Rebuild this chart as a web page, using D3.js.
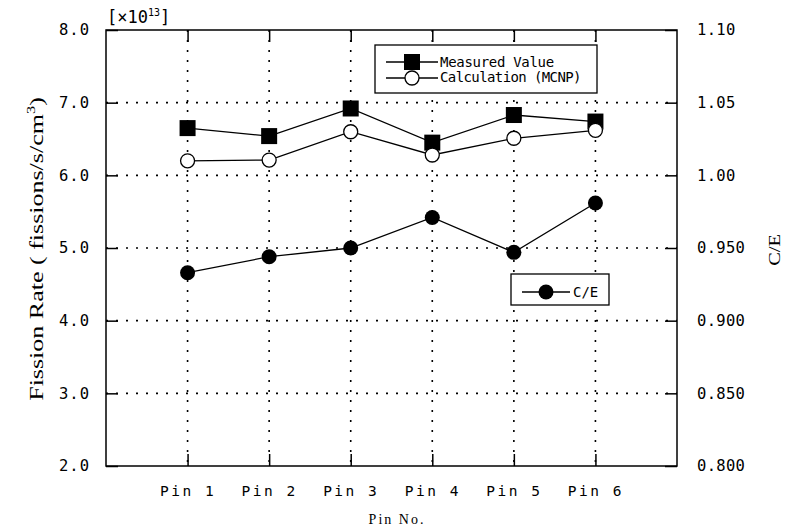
<!DOCTYPE html>
<html><head><meta charset="utf-8">
<script src="https://cdn.jsdelivr.net/npm/d3@7"></script>
<style>body{margin:0;background:#fff}</style>
</head><body>
<svg id="c" width="792" height="532"></svg>
<script>
const categories = ["Pin 1","Pin 2","Pin 3","Pin 4","Pin 5","Pin 6"];
const measured = [6.65, 6.54, 6.92, 6.45, 6.83, 6.74];
const calculated = [6.20, 6.21, 6.60, 6.28, 6.51, 6.62];
const ce = [0.933, 0.944, 0.950, 0.971, 0.947, 0.981];
const leftTicks = [2.0,3.0,4.0,5.0,6.0,7.0,8.0];
const leftTickLabels = ["2.0","3.0","4.0","5.0","6.0","7.0","8.0"];
const rightTicks = [0.80,0.85,0.90,0.95,1.00,1.05,1.10];
const rightTickLabels = ["0.800","0.850","0.900","0.950","1.00","1.05","1.10"];

const svg = d3.select("#c");
const L=106, R=677, T=30, B=466;
const x = d3.scaleLinear().domain([0,7]).range([L,R]);
const y = d3.scaleLinear().domain([2,8]).range([B,T]);
const y2 = d3.scaleLinear().domain([0.8,1.1]).range([B,T]);
const mono = "'DejaVu Sans Mono','Liberation Mono',monospace";
const serif = "'Liberation Serif','DejaVu Serif',serif";

// gridlines
const g = svg.append("g");
g.selectAll("line.h").data(leftTicks.slice(1,-1)).join("line")
  .attr("x1",L).attr("x2",R).attr("y1",d=>y(d)).attr("y2",d=>y(d))
  .attr("stroke","#000").attr("stroke-width",1.6).attr("stroke-dasharray","2,8");
g.selectAll("line.v").data(categories).join("line")
  .attr("x1",(d,i)=>x(i+1)).attr("x2",(d,i)=>x(i+1)).attr("y1",T).attr("y2",B)
  .attr("stroke","#000").attr("stroke-width",1.6).attr("stroke-dasharray","2,8");

// frame
svg.append("rect").attr("x",L).attr("y",T).attr("width",R-L).attr("height",B-T)
  .attr("fill","none").attr("stroke","#000").attr("stroke-width",1.5);

// axes
const axL = d3.axisLeft(y).tickValues(leftTicks).tickSize(-12).tickPadding(16)
  .tickFormat((d,i)=>leftTickLabels[i]);
const gl = svg.append("g").attr("transform",`translate(${L},0)`).call(axL);
const axR = d3.axisRight(y2).tickValues(rightTicks).tickSize(-12).tickPadding(20)
  .tickFormat((d,i)=>rightTickLabels[i]);
const gr = svg.append("g").attr("transform",`translate(${R},0)`).call(axR);
const axB = d3.axisBottom(x).tickValues([1,2,3,4,5,6]).tickSize(-12).tickPadding(20)
  .tickFormat((d,i)=>categories[i]);
const gb = svg.append("g").attr("transform",`translate(0,${B})`).call(axB);
const axT = d3.axisTop(x).tickValues([1,2,3,4,5,6]).tickSize(-12).tickFormat("");
const gt = svg.append("g").attr("transform",`translate(0,${T})`).call(axT);
[gl,gr,gb,gt].forEach(a=>{
  a.select(".domain").remove();
  a.selectAll(".tick line").attr("stroke","#000").attr("stroke-width",1.5);
  a.selectAll("text").attr("font-family",mono).attr("font-size",15.5).attr("fill","#000")
   .style("letter-spacing","1px");
});
gr.selectAll("text").style("letter-spacing","0.3px");
gb.selectAll("text").style("letter-spacing","2.5px").attr("font-size",14.5);

// lines
const line = (ys,data)=>d3.line().x((d,i)=>x(i+1)).y(d=>ys(d))(data);
svg.append("path").attr("d",line(y,measured)).attr("fill","none").attr("stroke","#000").attr("stroke-width",1.3);
svg.append("path").attr("d",line(y,calculated)).attr("fill","none").attr("stroke","#000").attr("stroke-width",1.3);
svg.append("path").attr("d",line(y2,ce)).attr("fill","none").attr("stroke","#000").attr("stroke-width",1.3);

const S=16;
svg.selectAll("rect.m").data(measured).join("rect")
  .attr("x",(d,i)=>x(i+1)-S/2).attr("y",d=>y(d)-S/2).attr("width",S).attr("height",S).attr("fill","#000");
svg.selectAll("circle.c").data(calculated).join("circle")
  .attr("cx",(d,i)=>x(i+1)).attr("cy",d=>y(d)).attr("r",7).attr("fill","#fff").attr("stroke","#000").attr("stroke-width",1.3);
svg.selectAll("circle.e").data(ce).join("circle")
  .attr("cx",(d,i)=>x(i+1)).attr("cy",d=>y2(d)).attr("r",7.5).attr("fill","#000");

// legend 1
const lg = svg.append("g");
lg.append("rect").attr("x",375).attr("y",45).attr("width",222).attr("height",48)
  .attr("fill","#fff").attr("stroke","#000").attr("stroke-width",1.3);
lg.append("line").attr("x1",386).attr("x2",438).attr("y1",62).attr("y2",62).attr("stroke","#000").attr("stroke-width",1.3);
lg.append("rect").attr("x",412-8).attr("y",62-8).attr("width",16).attr("height",16).attr("fill","#000");
lg.append("line").attr("x1",386).attr("x2",438).attr("y1",78).attr("y2",78).attr("stroke","#000").attr("stroke-width",1.3);
lg.append("circle").attr("cx",412).attr("cy",78).attr("r",7).attr("fill","#fff").attr("stroke","#000").attr("stroke-width",1.3);
lg.append("text").attr("x",440).attr("y",67).text("Measured Value")
  .attr("font-family",mono).attr("font-size",14).style("letter-spacing","-0.3px");
lg.append("text").attr("x",440).attr("y",82).text("Calculation (MCNP)")
  .attr("font-family",mono).attr("font-size",14).style("letter-spacing","-0.6px");

// legend 2
const lg2 = svg.append("g");
lg2.append("rect").attr("x",511).attr("y",274).attr("width",98).attr("height",31)
  .attr("fill","#fff").attr("stroke","#000").attr("stroke-width",1.3);
lg2.append("line").attr("x1",522).attr("x2",570).attr("y1",292).attr("y2",292).attr("stroke","#000").attr("stroke-width",1.3);
lg2.append("circle").attr("cx",546).attr("cy",292).attr("r",7.5).attr("fill","#000");
lg2.append("text").attr("x",573).attr("y",297).text("C/E")
  .attr("font-family",mono).attr("font-size",14);

// titles
svg.append("text").attr("transform","translate(43,249) rotate(-90) scale(1.37,1)").attr("text-anchor","middle")
  .attr("font-family",serif).attr("font-size",19)
  .html('Fission Rate ( fissions/s/cm<tspan dy="-8" font-size="12">3</tspan><tspan dy="8">)</tspan>');
svg.append("text").attr("transform","translate(780,250) rotate(-90) scale(1.2,1)").attr("text-anchor","middle")
  .attr("font-family",serif).attr("font-size",17).text("C/E");
svg.append("text").attr("x",397).attr("y",524).attr("text-anchor","middle")
  .attr("font-family",serif).attr("font-size",14).style("letter-spacing","2px").text("Pin No.");
svg.append("text").attr("x",107).attr("y",23).attr("font-family",mono).attr("font-size",17)
  .html('[×10<tspan dy="-7" font-size="10">13</tspan><tspan dy="7">]</tspan>');
</script>
</body></html>
